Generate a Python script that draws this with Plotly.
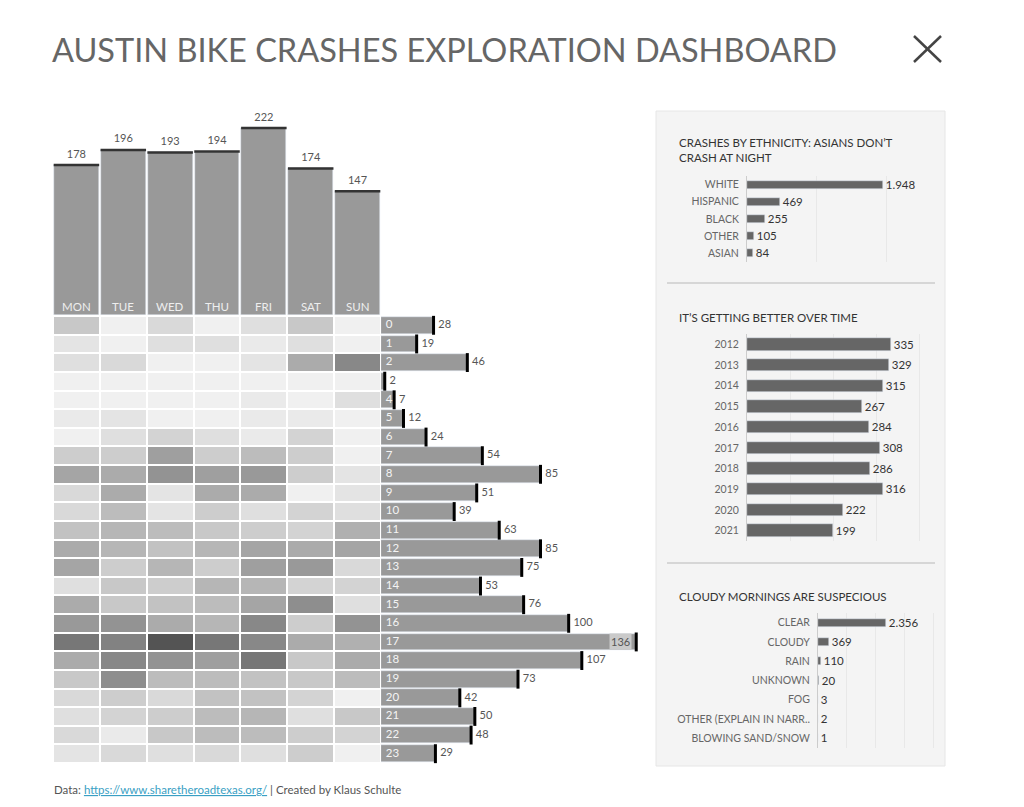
import plotly.graph_objects as go

# page has an 8px body margin, so the figure is placed at (8, 8)
OX, OY = 8, 8
W, H = 1008, 791

days = ["MON", "TUE", "WED", "THU", "FRI", "SAT", "SUN"]
day_totals = [178, 196, 193, 194, 222, 174, 147]

hours = [str(h) for h in range(24)]
hour_totals = [28, 19, 46, 2, 7, 12, 24, 54, 85, 51, 39, 63,
               85, 75, 53, 76, 100, 136, 107, 73, 42, 50, 48, 29]

# crashes per hour (rows) x weekday (cols)
hour_day = [
    [8, 1, 5, 1, 4, 8, 1],
    [3, 1, 4, 4, 2, 4, 1],
    [4, 5, 1, 1, 3, 13, 19],
    [0, 0, 0, 1, 0, 1, 0],
    [0, 0, 0, 1, 2, 0, 4],
    [2, 3, 1, 1, 2, 2, 1],
    [1, 4, 6, 4, 2, 6, 1],
    [7, 7, 15, 7, 10, 7, 1],
    [14, 13, 17, 15, 16, 7, 3],
    [5, 13, 3, 13, 13, 1, 3],
    [5, 10, 3, 7, 4, 6, 4],
    [9, 11, 10, 8, 7, 6, 12],
    [13, 11, 9, 11, 14, 13, 14],
    [14, 7, 11, 7, 15, 16, 5],
    [4, 8, 7, 11, 11, 6, 6],
    [13, 8, 9, 10, 14, 18, 4],
    [16, 17, 13, 11, 19, 7, 17],
    [22, 20, 28, 22, 19, 13, 12],
    [13, 19, 17, 15, 22, 8, 13],
    [8, 18, 10, 10, 9, 8, 10],
    [5, 7, 5, 9, 9, 6, 1],
    [4, 6, 7, 10, 11, 4, 8],
    [5, 2, 8, 10, 10, 7, 6],
    [3, 5, 4, 5, 4, 7, 1],
]

ethnicity = ["WHITE", "HISPANIC", "BLACK", "OTHER", "ASIAN"]
ethnicity_counts = [1948, 469, 255, 105, 84]

years = ["2012", "2013", "2014", "2015", "2016", "2017", "2018", "2019", "2020", "2021"]
year_counts = [335, 329, 315, 267, 284, 308, 286, 316, 222, 199]

weather = ["CLEAR", "CLOUDY", "RAIN", "UNKNOWN", "FOG",
           "OTHER (EXPLAIN IN NARR..", "BLOWING SAND/SNOW"]
weather_counts = [2356, 369, 110, 20, 3, 2, 1]

FONT = "Lato"
BAR_GREY = "#999999"
DARK_BAR = "#666666"


def px(x):
    return (x - OX) / W


def py(y):
    return 1 - (y - OY) / H


def xdom(x0, x1):
    return [px(x0), px(x1)]


def ydom(y0, y1):
    return [py(y1), py(y0)]


fig = go.Figure()
ghost = dict(size=6, color="rgba(0,0,0,0)")

# --- weekday totals (top) ---
fig.add_trace(go.Bar(x=days, y=day_totals, width=0.96, marker_color=BAR_GREY,
                     xaxis="x", yaxis="y", hoverinfo="x+y"))
# line-ew markers are drawn 1.4x their size
fig.add_trace(go.Scatter(x=days, y=day_totals, mode="markers",
                         marker=dict(symbol="line-ew", size=32.5, line=dict(width=2.5, color="#333333")),
                         xaxis="x", yaxis="y", cliponaxis=False, hoverinfo="skip"))
fig.add_trace(go.Scatter(x=days, y=day_totals, mode="markers+text", marker=ghost,
                         text=[str(v) for v in day_totals], textposition="top center",
                         textfont=dict(size=11, color="#555555"),
                         xaxis="x", yaxis="y", cliponaxis=False, hoverinfo="skip"))
for d in days:
    fig.add_annotation(x=d, y=0, xref="x", yref="y", text=d, showarrow=False,
                       yanchor="bottom", yshift=0, font=dict(size=11.5, color="#eeeeee"))

# --- hour x weekday heatmap ---
fig.add_trace(go.Heatmap(z=hour_day, x=days, y=hours, xgap=2, ygap=2,
                         colorscale=[[0, "#f0f0f0"], [1, "#4e4e4e"]], zmin=1, zmax=29,
                         showscale=False, xaxis="x2", yaxis="y2"))

# --- hour totals (right of heatmap) ---
fig.add_trace(go.Bar(x=hour_totals, y=hours, orientation="h", width=0.9,
                     marker_color=BAR_GREY, xaxis="x3", yaxis="y3", hoverinfo="x+y"))
fig.add_trace(go.Scatter(x=hour_totals, y=hours, mode="markers",
                         marker=dict(symbol="line-ns", size=13.5, line=dict(width=3, color="#000000")),
                         xaxis="x3", yaxis="y3", cliponaxis=False, hoverinfo="skip"))
fig.add_trace(go.Scatter(x=[0] * 24, y=hours, mode="markers+text", marker=ghost,
                         text=[h if v >= 5 else "" for h, v in zip(hours, hour_totals)],
                         textposition="middle right", textfont=dict(size=11.5, color="#f4f4f4"),
                         xaxis="x3", yaxis="y3", hoverinfo="skip"))
max_hour = max(hour_totals)
fig.add_trace(go.Scatter(x=hour_totals, y=hours, mode="markers+text", marker=ghost,
                         text=[str(v) if v != max_hour else "" for v in hour_totals],
                         textposition="middle right", textfont=dict(size=11, color="#555555"),
                         xaxis="x3", yaxis="y3", cliponaxis=False, hoverinfo="skip"))
fig.add_annotation(x=max_hour, y=hours[hour_totals.index(max_hour)], xref="x3", yref="y3",
                   text=str(max_hour), showarrow=False, xanchor="right", xshift=-4,
                   bgcolor="#cacaca", font=dict(size=11, color="#555555"))

# --- right panel bar charts ---
panels = [
    (ethnicity, ethnicity_counts, "x4", "y4", 0.47),
    (years, year_counts, "x5", "y5", 0.6),
    (weather, weather_counts, "x6", "y6", 0.42),
]
for cats, vals, xa, ya, bw in panels:
    fig.add_trace(go.Bar(x=vals, y=cats, orientation="h", width=bw, marker_color=DARK_BAR,
                         text=vals, texttemplate="%{x:,}", textposition="outside",
                         constraintext="none", textfont=dict(size=11.5, color="#333333"),
                         cliponaxis=False, xaxis=xa, yaxis=ya, hoverinfo="x+y"))

hidden = dict(showgrid=False, zeroline=False, showticklabels=False, ticks="", fixedrange=True)
panel_x = dict(showgrid=True, gridcolor="#e8e8e8", gridwidth=1, zeroline=False,
               showticklabels=False, ticks="", fixedrange=True)
panel_y = dict(type="category", autorange="reversed", showline=True, linecolor="#cccccc",
               linewidth=1, ticks="", showgrid=False, ticklabelstandoff=5,
               tickfont=dict(size=10.5, color="#666666"), fixedrange=True)

fig.update_layout(
    width=W, height=H, margin=dict(l=0, r=0, t=0, b=0),
    paper_bgcolor="white", plot_bgcolor="rgba(0,0,0,0)",
    showlegend=False, bargap=0, separators=",.",
    font=dict(family=FONT, color="#555555"),
    xaxis=dict(domain=xdom(53, 381), type="category", range=[-0.5, 6.5], **hidden),
    yaxis=dict(domain=ydom(112, 315), range=[0, 241], **hidden),
    xaxis2=dict(domain=xdom(53, 381), type="category", range=[-0.5, 6.5], anchor="y2", **hidden),
    yaxis2=dict(domain=ydom(316, 763), type="category", range=[23.5, -0.5], anchor="x2", **hidden),
    xaxis3=dict(domain=xdom(381, 655), range=[0, 146], anchor="y3", **hidden),
    yaxis3=dict(domain=ydom(316, 763), type="category", range=[23.5, -0.5], anchor="x3", **hidden),
    xaxis4=dict(domain=xdom(747, 935), range=[0, 2690], anchor="y4", dtick=1000, **panel_x),
    yaxis4=dict(domain=ydom(176, 262), anchor="x4", **panel_y),
    xaxis5=dict(domain=xdom(747, 935), range=[0, 437], anchor="y5", dtick=100, **panel_x),
    yaxis5=dict(domain=ydom(334, 541), anchor="x5", **panel_y),
    xaxis6=dict(domain=xdom(818, 935), range=[0, 4050], anchor="y6", dtick=1000, **panel_x),
    yaxis6=dict(domain=ydom(613, 748), anchor="x6", **panel_y),
)

# panel background and separators
fig.add_shape(type="rect", xref="paper", yref="paper", layer="below",
              x0=px(656), x1=px(945), y0=py(766), y1=py(111),
              fillcolor="#f4f4f4", line=dict(color="#e6e6e6", width=1))
for sy in (283, 563):
    fig.add_shape(type="line", xref="paper", yref="paper",
                  x0=px(667), x1=px(935), y0=py(sy), y1=py(sy),
                  line=dict(color="#cccccc", width=1.5))
# close icon
for a, b in (((914, 36), (941, 62)), ((914, 62), (941, 36))):
    fig.add_shape(type="line", xref="paper", yref="paper",
                  x0=px(a[0]), y0=py(a[1]), x1=px(b[0]), y1=py(b[1]),
                  line=dict(color="#444444", width=2.5))

# titles
fig.add_annotation(x=px(50), y=py(50), xref="paper", yref="paper", xanchor="left",
                   yanchor="middle", showarrow=False,
                   text="AUSTIN BIKE CRASHES EXPLORATION DASHBOARD",
                   font=dict(size=32.5, color="#666666", family=FONT))
panel_titles = [
    (150, "CRASHES BY ETHNICITY: ASIANS DON\u2019T<br>CRASH AT NIGHT"),
    (317, "IT\u2019S GETTING BETTER OVER TIME"),
    (596, "CLOUDY MORNINGS ARE SUSPECIOUS"),
]
for ty, txt in panel_titles:
    fig.add_annotation(x=px(677), y=py(ty), xref="paper", yref="paper", xanchor="left",
                       yanchor="middle", showarrow=False, align="left", text=txt,
                       font=dict(size=11.5, color="#333333", family=FONT))

fig.add_annotation(x=px(52), y=py(789), xref="paper", yref="paper", xanchor="left",
                   yanchor="middle", showarrow=False,
                   text="Data: <a href='https://www.sharetheroadtexas.org/'>"
                        "<span style='color:#3a9fc4'><u>https://www.sharetheroadtexas.org/</u></span></a>"
                        " | Created by Klaus Schulte",
                   font=dict(size=11.5, color="#555555", family=FONT))

fig.write_html("out.html")
